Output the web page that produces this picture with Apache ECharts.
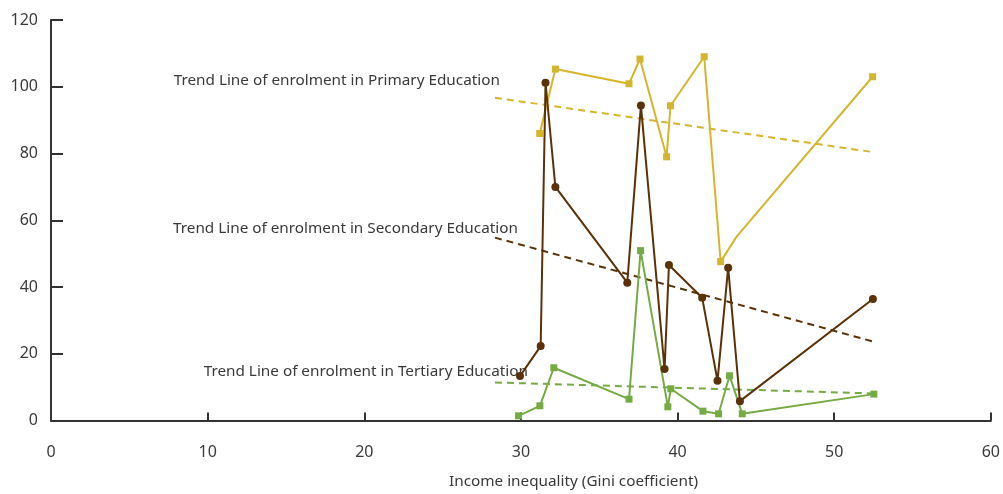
<!DOCTYPE html>
<html>
<head>
<meta charset="utf-8">
<script src="https://cdn.jsdelivr.net/npm/echarts@6/dist/echarts.min.js"></script>
<style>html,body{margin:0;padding:0;background:#fff}#c{width:1003px;height:494px}</style>
</head>
<body>
<div id="c"></div>
<script>
// Data (x = Gini coefficient, y = enrolment)
var primaryData = [[31.2,86.0],[32.2,105.3],[36.9,100.9],[37.6,108.3],[39.3,79.0],[39.55,94.3],[41.7,109.0],[42.75,47.6],[43.77,55.1],[52.45,103.0]];
var primaryHiddenIdx = 8; // kink without a marker in the reference
var secondaryData = [[29.94,13.3],[31.26,22.3],[31.57,101.2],[32.2,70.0],[36.79,41.3],[37.66,94.4],[39.17,15.4],[39.45,46.6],[41.57,36.8],[42.55,11.9],[43.23,45.8],[43.98,5.8],[52.47,36.4]];
var tertiaryData = [[29.85,1.4],[31.21,4.4],[32.1,15.8],[36.9,6.4],[37.64,50.9],[39.38,4.1],[39.57,9.5],[41.62,2.8],[42.62,2.0],[43.32,13.4],[44.13,2.0],[52.53,7.9]];
var trendPrimary = [[28.34,96.7],[52.53,80.4]];
var trendSecondary = [[28.34,54.8],[52.53,23.6]];
var trendTertiary = [[28.34,11.4],[52.53,8.1]];
var trendLabels = ['Trend Line of enrolment in Primary Education','Trend Line of enrolment in Secondary Education','Trend Line of enrolment in Tertiary Education'];
var xTicks = {min:0, max:60, interval:10};
var yTicks = {min:0, max:120, interval:20};
var xTitle = 'Income inequality (Gini coefficient)';

var FONT = "'Noto Sans',sans-serif";
var C_P = '#d5b52c', C_S = '#5b3208', C_T = '#76ab43';

function trend(data, color, label, offset){
  return {
    type:'line', data: data.map(function(p,i){
      var d = {value:p};
      if(i===0){ d.label = {show:true, formatter: label, position:'left', distance:0, offset: offset,
        color:'#3a3a3a', fontSize:15.3, fontFamily:FONT}; }
      return d;
    }),
    symbol:'circle', symbolSize:0, showSymbol:true, silent:true,
    lineStyle:{color:color, width:2, type:[7,5]}, itemStyle:{color:color}, z:1
  };
}

var chart = echarts.init(document.getElementById('c'));
chart.setOption({
  animation:false,
  title:{text:xTitle, left:449, top:474, padding:0, textStyle:{fontSize:15.3, fontWeight:'normal', color:'#3a3a3a', fontFamily:FONT}},
  grid:{left:51, right:12, top:20, bottom:73.5, containLabel:false},
  xAxis:{type:'value', min:xTicks.min, max:xTicks.max, interval:xTicks.interval,
    axisLine:{lineStyle:{color:'#333', width:2}},
    axisTick:{inside:true, length:8, lineStyle:{color:'#333', width:2}},
    axisLabel:{color:'#3a3a3a', fontSize:16, fontFamily:FONT, margin:24},
    splitLine:{show:false}},
  yAxis:{type:'value', min:yTicks.min, max:yTicks.max, interval:yTicks.interval,
    axisLine:{show:true, lineStyle:{color:'#333', width:2}},
    axisTick:{show:true, inside:true, length:12, lineStyle:{color:'#333', width:2}},
    axisLabel:{color:'#3a3a3a', fontSize:16, fontFamily:FONT, margin:13},
    splitLine:{show:false}},
  series:[
    trend(trendPrimary, C_P, trendLabels[0], [5,-17]),
    trend(trendSecondary, C_S, trendLabels[1], [23,-9]),
    trend(trendTertiary, C_T, trendLabels[2], [33,-11]),
    {type:'line', data: primaryData.map(function(p,i){ return i===primaryHiddenIdx ? {value:p, symbol:'none'} : p; }),
      symbol:'rect', symbolSize:7, showAllSymbol:true,
      lineStyle:{color:C_P, width:2}, itemStyle:{color:C_P}, z:3},
    {type:'line', data: secondaryData, symbol:'circle', symbolSize:8, showAllSymbol:true,
      lineStyle:{color:C_S, width:2}, itemStyle:{color:C_S}, z:4},
    {type:'line', data: tertiaryData, symbol:'rect', symbolSize:7, showAllSymbol:true,
      lineStyle:{color:C_T, width:2}, itemStyle:{color:C_T}, z:3}
  ]
});
</script>
</body>
</html>
